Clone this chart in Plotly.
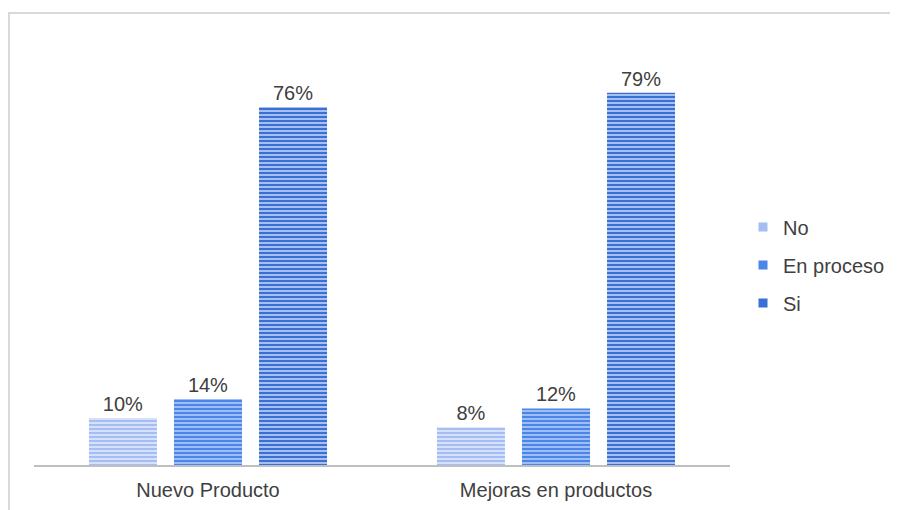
import plotly.graph_objects as go

categories = ["Nuevo Producto", "Mejoras en productos"]
series_names = ["No", "En proceso", "Si"]
no_vals = [10, 8]
en_proceso_vals = [14, 12]
si_vals = [76, 79]

base_colors = ["#a6bdf4", "#4a86e8", "#3a6fd6"]
stripe_colors = ["#dbe5fb", "#a9c5f5", "#b2c8f0"]

fig = go.Figure()
for i, (name, vals) in enumerate(zip(series_names, [no_vals, en_proceso_vals, si_vals])):
    fig.add_trace(go.Bar(
        name=name,
        x=categories,
        y=vals,
        showlegend=False,
        marker=dict(
            color=base_colors[i],
            line=dict(width=0),
            pattern=dict(shape="-", size=4, solidity=0.45,
                         fgcolor=stripe_colors[i], bgcolor=base_colors[i],
                         fillmode="replace"),
        ),
        texttemplate="%{y}%",
        textposition="outside",
        textfont=dict(size=20, color="#404040"),
        cliponaxis=False,
    ))
    # legend entry with small square swatch
    fig.add_trace(go.Scatter(
        name=name,
        x=[None], y=[None],
        mode="markers",
        legendgroup=name,
        marker=dict(symbol="square", size=9, color=base_colors[i]),
        showlegend=True,
        hoverinfo="skip",
    ))

W, H = 890, 502
L, R, T, B = 26, 168, 33, 45
pw = W - L - R
ph = H - T - B

def px_x(x):
    return (x - L) / pw

def px_y(y):
    return (H - B - y) / ph

fig.update_layout(
    width=W, height=H,
    margin=dict(l=L, r=R, t=T, b=B, autoexpand=False),
    paper_bgcolor="white",
    plot_bgcolor="white",
    font=dict(family="Liberation Sans, Arial, sans-serif", color="#404040", size=20),
    barmode="group",
    bargap=0.267,
    bargroupgap=0.2,
    showlegend=True,
    legend=dict(
        x=px_x(735), y=px_y(257), xanchor="left", yanchor="middle",
        font=dict(size=20, color="#404040"),
        traceorder="grouped",
        tracegroupgap=9,
        itemwidth=30,
        bgcolor="rgba(0,0,0,0)",
    ),
    xaxis=dict(
        showline=True, linecolor="#bfbfbf", linewidth=2,
        showgrid=False, ticks="", tickfont=dict(size=20, color="#404040"),
        ticklabelstandoff=6,
    ),
    yaxis=dict(
        range=[0, 90], visible=False, showgrid=False, zeroline=False,
    ),
    shapes=[
        dict(type="line", xref="paper", yref="paper",
             x0=px_x(1), x1=px_x(1), y0=px_y(5), y1=px_y(510),
             line=dict(color="#d9d9d9", width=2)),
        dict(type="line", xref="paper", yref="paper",
             x0=px_x(0), x1=px_x(900), y0=px_y(5), y1=px_y(5),
             line=dict(color="#d9d9d9", width=2)),
    ],
)

fig.write_html("out.html")
